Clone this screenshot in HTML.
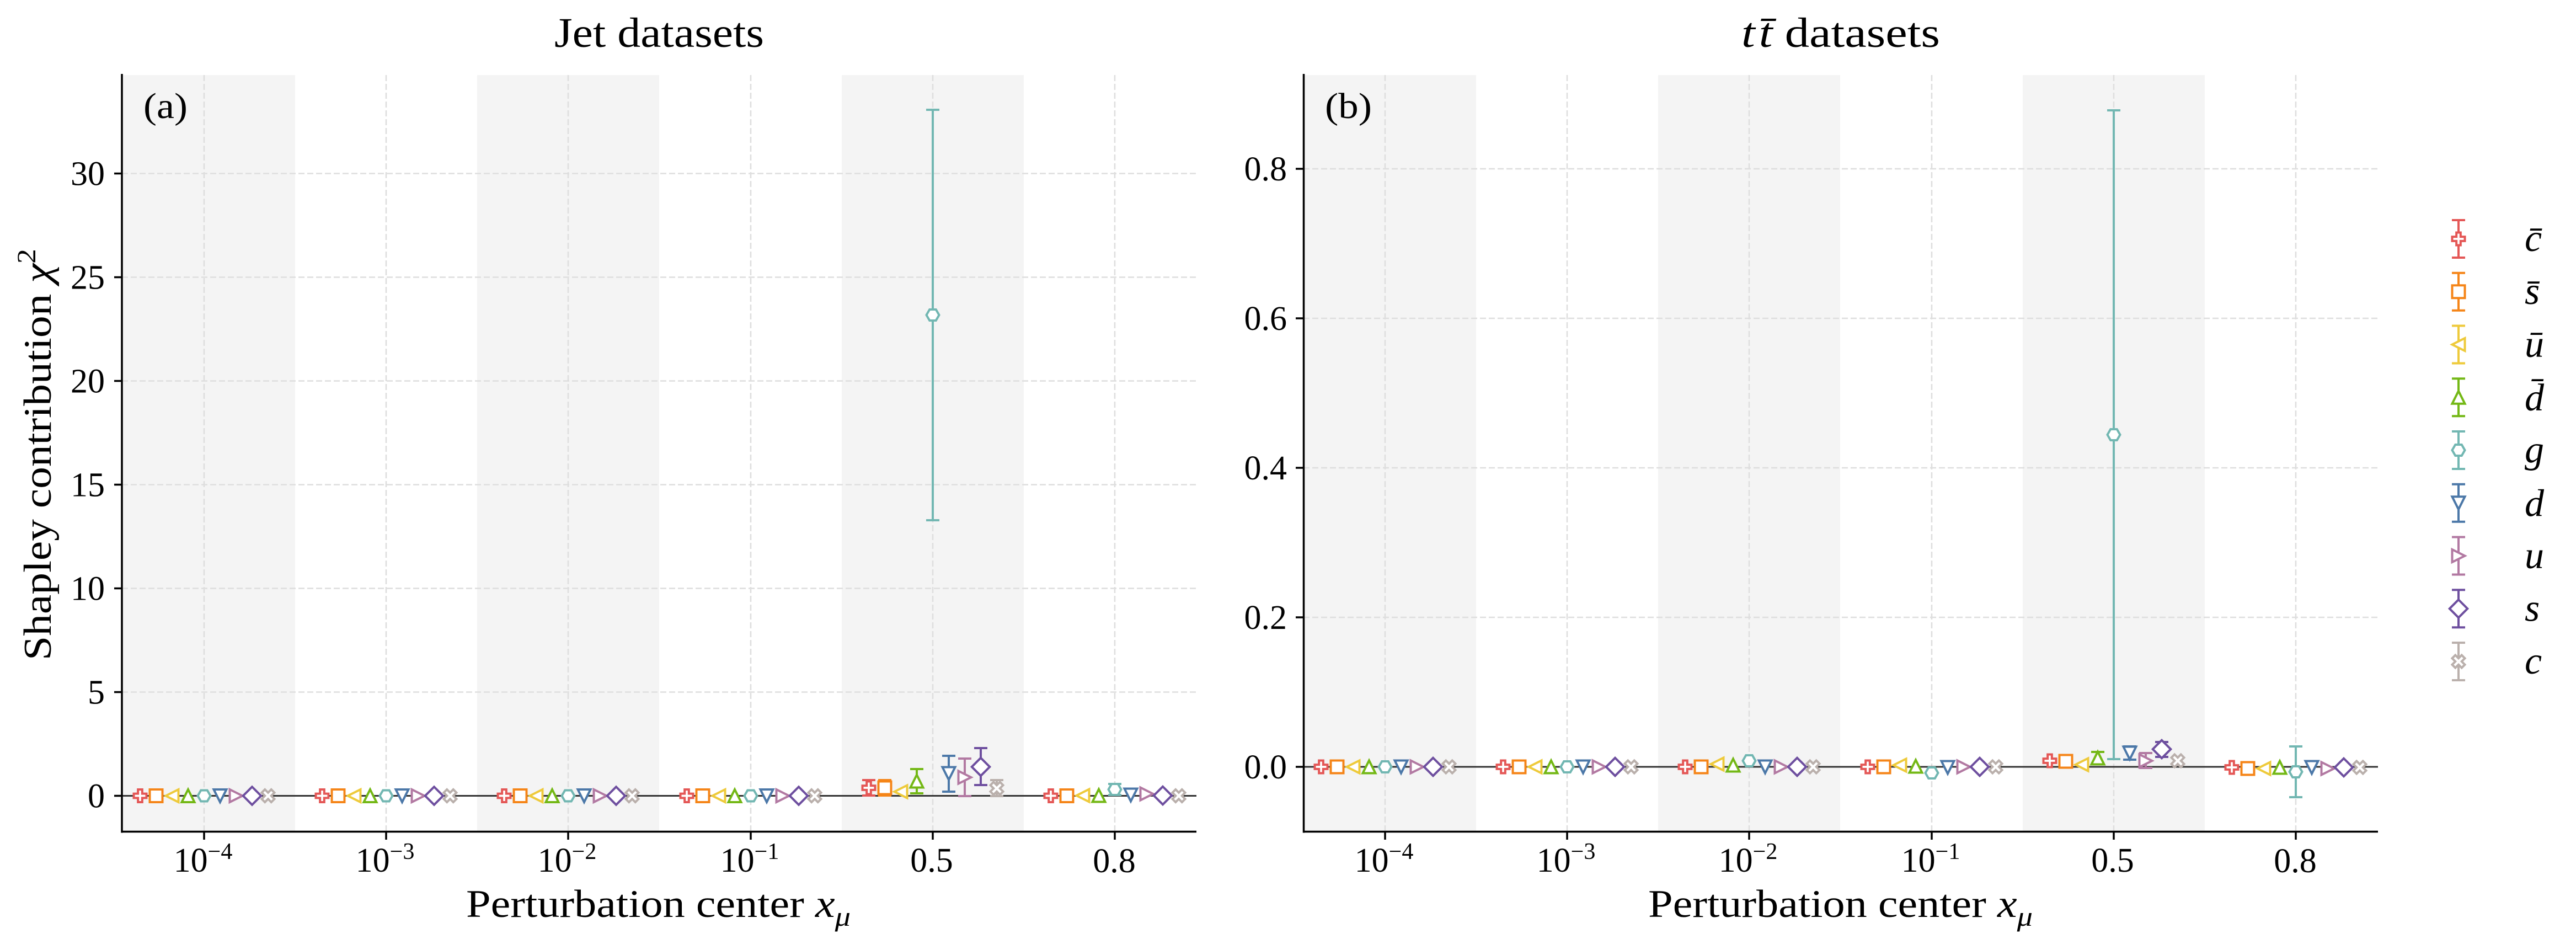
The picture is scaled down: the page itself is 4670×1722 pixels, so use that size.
<!DOCTYPE html>
<html>
<head>
<meta charset="utf-8">
<style>
html,body{margin:0;padding:0;background:#fff;}
svg{display:block;}
text{font-family:"Liberation Serif","DejaVu Serif",serif;fill:#000;}
</style>
</head>
<body>
<svg xmlns="http://www.w3.org/2000/svg" width="4670" height="1722" viewBox="0 0 4670 1722">
<defs>
<g id="m0"><path d="M-3.83,-11.5H3.83V-3.83H11.5V3.83H3.83V11.5H-3.83V3.83H-11.5V-3.83H-3.83Z" fill="#fff" stroke="#e45756" stroke-width="4"/></g>
<g id="m1"><rect x="-11.5" y="-11.5" width="23" height="23" fill="#fff" stroke="#f58518" stroke-width="4"/></g>
<g id="m2"><path d="M-11.5,0L11.5,-11.5L11.5,11.5Z" fill="#fff" stroke="#eeca3b" stroke-width="4"/></g>
<g id="m3"><path d="M0,-11.5L11.5,11.5L-11.5,11.5Z" fill="#fff" stroke="#74b816" stroke-width="4"/></g>
<g id="m4"><path d="M11.5,0L5.75,9.96L-5.75,9.96L-11.5,0L-5.75,-9.96L5.75,-9.96Z" fill="#fff" stroke="#72b7b2" stroke-width="4"/></g>
<g id="m5"><path d="M0,11.5L11.5,-11.5L-11.5,-11.5Z" fill="#fff" stroke="#4c78a8" stroke-width="4"/></g>
<g id="m6"><path d="M11.5,0L-11.5,-11.5L-11.5,11.5Z" fill="#fff" stroke="#b279a2" stroke-width="4"/></g>
<g id="m7"><path d="M0,-16.26L16.26,0L0,16.26L-16.26,0Z" fill="#fff" stroke="#6e4f9f" stroke-width="4"/></g>
<g id="m8"><path d="M-5.75,-11.5L0,-5.75L5.75,-11.5L11.5,-5.75L5.75,0L11.5,5.75L5.75,11.5L0,5.75L-5.75,11.5L-11.5,5.75L-5.75,0L-11.5,-5.75Z" fill="#fff" stroke="#bab0ac" stroke-width="4"/></g>
</defs>

<!-- ================= LEFT PANEL ================= -->
<!-- bands -->
<g fill="#f4f4f4">
<rect x="221" y="136" width="314" height="1371"/>
<rect x="865" y="136" width="330" height="1371"/>
<rect x="1526" y="136" width="330" height="1371"/>
</g>
<!-- grid -->
<g stroke="#dedede" stroke-width="2.5" stroke-dasharray="11 5" fill="none">
<path d="M221,1254.5H2169M221,1066.5H2169M221,878.5H2169M221,690.5H2169M221,502.5H2169M221,314.5H2169"/>
<path d="M370,136V1507M700,136V1507M1030,136V1507M1361,136V1507M1691,136V1507M2021,136V1507"/>
</g>
<!-- zero line -->
<path d="M221,1442.5H2169" stroke="#333" stroke-width="3"/>
<!-- error bars left -->
<g stroke-width="4" fill="none">
<path stroke="#e45756" d="M1575,1414V1442M1563,1414h24M1563,1442h24"/>
<path stroke="#f58518" d="M1604,1414V1442M1592,1414h24M1592,1442h24"/>
<path stroke="#74b816" d="M1662,1394V1438M1650,1394h24M1650,1438h24"/>
<path stroke="#72b7b2" d="M1691,199V943M1679,199h24M1679,943h24"/>
<path stroke="#4c78a8" d="M1720,1370V1435M1708,1370h24M1708,1435h24"/>
<path stroke="#b279a2" d="M1749,1375V1443M1737,1375h24M1737,1443h24"/>
<path stroke="#6e4f9f" d="M1778,1356V1423M1766,1356h24M1766,1423h24"/>
<path stroke="#bab0ac" d="M1807,1414V1443M1795,1414h24M1795,1443h24"/>
<path stroke="#72b7b2" d="M2021,1421V1441M2009,1421h24M2009,1441h24"/>
</g>
<!-- markers left -->
<g>
<use href="#m0" x="254" y="1442.5"/><use href="#m1" x="283" y="1442.5"/><use href="#m2" x="312" y="1442.5"/><use href="#m3" x="341" y="1442.5"/><use href="#m4" x="370" y="1442.5"/><use href="#m5" x="399" y="1442.5"/><use href="#m6" x="428" y="1442.5"/><use href="#m7" x="457" y="1442.5"/><use href="#m8" x="486" y="1442.5"/>
<use href="#m0" x="584" y="1442.5"/><use href="#m1" x="613" y="1442.5"/><use href="#m2" x="642" y="1442.5"/><use href="#m3" x="671" y="1442.5"/><use href="#m4" x="700" y="1442.5"/><use href="#m5" x="729" y="1442.5"/><use href="#m6" x="758" y="1442.5"/><use href="#m7" x="787" y="1442.5"/><use href="#m8" x="816" y="1442.5"/>
<use href="#m0" x="914" y="1442.5"/><use href="#m1" x="943" y="1442.5"/><use href="#m2" x="972" y="1442.5"/><use href="#m3" x="1001" y="1442.5"/><use href="#m4" x="1030" y="1442.5"/><use href="#m5" x="1059" y="1442.5"/><use href="#m6" x="1088" y="1442.5"/><use href="#m7" x="1117" y="1442.5"/><use href="#m8" x="1146" y="1442.5"/>
<use href="#m0" x="1245" y="1442.5"/><use href="#m1" x="1274" y="1442.5"/><use href="#m2" x="1303" y="1442.5"/><use href="#m3" x="1332" y="1442.5"/><use href="#m4" x="1361" y="1442.5"/><use href="#m5" x="1390" y="1442.5"/><use href="#m6" x="1419" y="1442.5"/><use href="#m7" x="1448" y="1442.5"/><use href="#m8" x="1477" y="1442.5"/>
<use href="#m0" x="1575" y="1428"/><use href="#m1" x="1604" y="1428"/><use href="#m2" x="1633" y="1435"/><use href="#m3" x="1662" y="1416"/><use href="#m4" x="1691" y="571"/><use href="#m5" x="1720" y="1402"/><use href="#m6" x="1749" y="1409"/><use href="#m7" x="1778" y="1390"/><use href="#m8" x="1807" y="1429"/>
<use href="#m0" x="1905" y="1442.5"/><use href="#m1" x="1934" y="1442.5"/><use href="#m2" x="1963" y="1442"/><use href="#m3" x="1992" y="1442"/><use href="#m4" x="2021" y="1431"/><use href="#m5" x="2050" y="1441"/><use href="#m6" x="2079" y="1439"/><use href="#m7" x="2108" y="1442"/><use href="#m8" x="2137" y="1442.5"/>
</g>
<!-- spines & ticks left -->
<g stroke="#000" stroke-width="3.5" fill="none">
<path d="M221,134V1509.5M219.5,1507.5H2169"/>
<path d="M207,1442.5H221M207,1254.5H221M207,1066.5H221M207,878.5H221M207,690.5H221M207,502.5H221M207,314.5H221"/>
<path d="M370,1507.5V1522M700,1507.5V1522M1030,1507.5V1522M1361,1507.5V1522M1691,1507.5V1522M2021,1507.5V1522"/>
</g>
<!-- tick labels left -->
<g font-size="62" text-anchor="end">
<text x="190" y="1463.5">0</text>
<text x="190" y="1275.5">5</text>
<text x="190" y="1087.5">10</text>
<text x="190" y="899.5">15</text>
<text x="190" y="711.5">20</text>
<text x="190" y="523.5">25</text>
<text x="190" y="335.5">30</text>
</g>
<g font-size="62" text-anchor="middle">
<text x="368" y="1580">10<tspan font-size="42" dy="-23">−4</tspan></text>
<text x="698" y="1580">10<tspan font-size="42" dy="-23">−3</tspan></text>
<text x="1028" y="1580">10<tspan font-size="42" dy="-23">−2</tspan></text>
<text x="1359" y="1580">10<tspan font-size="42" dy="-23">−1</tspan></text>
<text x="1689" y="1580">0.5</text>
<text x="2020" y="1581">0.8</text>
</g>
<!-- labels left -->
<text x="1195" y="85" font-size="76" text-anchor="middle" textLength="380" lengthAdjust="spacingAndGlyphs">Jet datasets</text>
<text x="260" y="214" font-size="66" textLength="80" lengthAdjust="spacingAndGlyphs">(a)</text>
<text x="845" y="1662" font-size="71" textLength="697" lengthAdjust="spacingAndGlyphs">Perturbation center <tspan font-style="italic">x</tspan><tspan font-style="italic" font-size="50" dy="16">μ</tspan></text>
<text transform="translate(92,824) rotate(-90)" font-size="71" text-anchor="middle" textLength="746" lengthAdjust="spacingAndGlyphs">Shapley contribution <tspan font-style="italic">χ</tspan><tspan font-size="48" dy="-28">2</tspan></text>

<!-- ================= RIGHT PANEL ================= -->
<g fill="#f4f4f4">
<rect x="2363" y="136" width="313" height="1371"/>
<rect x="3006" y="136" width="330" height="1371"/>
<rect x="3667" y="136" width="330" height="1371"/>
</g>
<g stroke="#dedede" stroke-width="2.5" stroke-dasharray="11 5" fill="none">
<path d="M2363,1119H4311M2363,848H4311M2363,577H4311M2363,306H4311"/>
<path d="M2511,136V1507M2841,136V1507M3171,136V1507M3502,136V1507M3832,136V1507M4162,136V1507"/>
</g>
<path d="M2363,1390H4311" stroke="#333" stroke-width="3"/>
<g stroke-width="4" fill="none">
<path stroke="#74b816" d="M3803,1363V1385M3791,1363h24M3791,1385h24"/>
<path stroke="#72b7b2" d="M3832,200V1376M3820,200h24M3820,1376h24"/>
<path stroke="#4c78a8" d="M3861,1353V1377M3849,1353h24M3849,1377h24"/>
<path stroke="#b279a2" d="M3890,1365V1392M3878,1365h24M3878,1392h24"/>
<path stroke="#6e4f9f" d="M3919,1345V1372M3907,1345h24M3907,1372h24"/>
<path stroke="#72b7b2" d="M4162,1353V1445M4150,1353h24M4150,1445h24"/>
</g>
<g>
<use href="#m0" x="2395" y="1390"/><use href="#m1" x="2424" y="1390"/><use href="#m2" x="2453" y="1390"/><use href="#m3" x="2482" y="1390"/><use href="#m4" x="2511" y="1390"/><use href="#m5" x="2540" y="1390"/><use href="#m6" x="2569" y="1390"/><use href="#m7" x="2598" y="1390"/><use href="#m8" x="2627" y="1390"/>
<use href="#m0" x="2725" y="1390"/><use href="#m1" x="2754" y="1390"/><use href="#m2" x="2783" y="1390"/><use href="#m3" x="2812" y="1390"/><use href="#m4" x="2841" y="1390"/><use href="#m5" x="2870" y="1390"/><use href="#m6" x="2899" y="1390"/><use href="#m7" x="2928" y="1390"/><use href="#m8" x="2957" y="1390"/>
<use href="#m0" x="3055" y="1390"/><use href="#m1" x="3084" y="1390"/><use href="#m2" x="3113" y="1385"/><use href="#m3" x="3142" y="1387"/><use href="#m4" x="3171" y="1379"/><use href="#m5" x="3200" y="1390"/><use href="#m6" x="3229" y="1390"/><use href="#m7" x="3258" y="1390"/><use href="#m8" x="3287" y="1390"/>
<use href="#m0" x="3386" y="1390"/><use href="#m1" x="3415" y="1390"/><use href="#m2" x="3444" y="1387"/><use href="#m3" x="3473" y="1389"/><use href="#m4" x="3502" y="1401"/><use href="#m5" x="3531" y="1391"/><use href="#m6" x="3560" y="1390"/><use href="#m7" x="3589" y="1390"/><use href="#m8" x="3618" y="1390"/>
<use href="#m0" x="3716" y="1379"/><use href="#m1" x="3745" y="1380"/><use href="#m2" x="3774" y="1386"/><use href="#m3" x="3803" y="1374"/><use href="#m4" x="3832" y="788"/><use href="#m5" x="3861" y="1365"/><use href="#m6" x="3890" y="1379"/><use href="#m7" x="3919" y="1358"/><use href="#m8" x="3948" y="1379"/>
<use href="#m0" x="4046" y="1391"/><use href="#m1" x="4075" y="1393"/><use href="#m2" x="4104" y="1393"/><use href="#m3" x="4133" y="1391"/><use href="#m4" x="4162" y="1399"/><use href="#m5" x="4191" y="1391"/><use href="#m6" x="4220" y="1393"/><use href="#m7" x="4249" y="1391"/><use href="#m8" x="4278" y="1391"/>
</g>
<g stroke="#000" stroke-width="3.5" fill="none">
<path d="M2363.5,134V1509.5M2362,1507.5H4311"/>
<path d="M2349,1390H2363.5M2349,1119H2363.5M2349,848H2363.5M2349,577H2363.5M2349,306H2363.5"/>
<path d="M2511,1507.5V1522M2841,1507.5V1522M3171,1507.5V1522M3502,1507.5V1522M3832,1507.5V1522M4162,1507.5V1522"/>
</g>
<g font-size="62" text-anchor="end">
<text x="2333" y="1411">0.0</text>
<text x="2333" y="1140">0.2</text>
<text x="2333" y="869">0.4</text>
<text x="2333" y="598">0.6</text>
<text x="2333" y="327">0.8</text>
</g>
<g font-size="62" text-anchor="middle">
<text x="2509" y="1580">10<tspan font-size="42" dy="-23">−4</tspan></text>
<text x="2839" y="1580">10<tspan font-size="42" dy="-23">−3</tspan></text>
<text x="3169" y="1580">10<tspan font-size="42" dy="-23">−2</tspan></text>
<text x="3500" y="1580">10<tspan font-size="42" dy="-23">−1</tspan></text>
<text x="3830" y="1580">0.5</text>
<text x="4161" y="1581">0.8</text>
</g>
<text x="3337" y="85" font-size="76" text-anchor="middle" textLength="360" lengthAdjust="spacingAndGlyphs"><tspan font-style="italic">t</tspan><tspan font-style="italic" dx="6">t&#x304;</tspan> datasets</text>
<text x="2402" y="214" font-size="66" textLength="85" lengthAdjust="spacingAndGlyphs">(b)</text>
<text x="2988" y="1662" font-size="71" textLength="697" lengthAdjust="spacingAndGlyphs">Perturbation center <tspan font-style="italic">x</tspan><tspan font-style="italic" font-size="50" dy="16">μ</tspan></text>

<!-- ================= LEGEND ================= -->
<g stroke-width="4" fill="none">
<path stroke="#e45756" d="M4457,399V467M4445,399h24M4445,467h24"/>
<path stroke="#f58518" d="M4457,494.75V562.75M4445,494.75h24M4445,562.75h24"/>
<path stroke="#eeca3b" d="M4457,590.5V658.5M4445,590.5h24M4445,658.5h24"/>
<path stroke="#74b816" d="M4457,686.25V754.25M4445,686.25h24M4445,754.25h24"/>
<path stroke="#72b7b2" d="M4457,782V850M4445,782h24M4445,850h24"/>
<path stroke="#4c78a8" d="M4457,877.75V945.75M4445,877.75h24M4445,945.75h24"/>
<path stroke="#b279a2" d="M4457,973.5V1041.5M4445,973.5h24M4445,1041.5h24"/>
<path stroke="#6e4f9f" d="M4457,1069.25V1137.25M4445,1069.25h24M4445,1137.25h24"/>
<path stroke="#bab0ac" d="M4457,1165V1233M4445,1165h24M4445,1233h24"/>
</g>
<use href="#m0" x="4457" y="433"/>
<use href="#m1" x="4457" y="528.75"/>
<use href="#m2" x="4457" y="624.5"/>
<use href="#m3" x="4457" y="720.25"/>
<use href="#m4" x="4457" y="816"/>
<use href="#m5" x="4457" y="911.75"/>
<use href="#m6" x="4457" y="1007.5"/>
<use href="#m7" x="4457" y="1103.25"/>
<use href="#m8" x="4457" y="1199"/>
<g font-size="70" font-style="italic">
<text x="4577" y="455">c&#x304;</text>
<text x="4577" y="550.75">s&#x304;</text>
<text x="4577" y="646.5">u&#x304;</text>
<text x="4577" y="743.75">d&#x304;</text>
<text x="4577" y="838">g</text>
<text x="4577" y="935.25">d</text>
<text x="4577" y="1029.5">u</text>
<text x="4577" y="1125.25">s</text>
<text x="4577" y="1221">c</text>
</g>
</svg>
</body>
</html>
